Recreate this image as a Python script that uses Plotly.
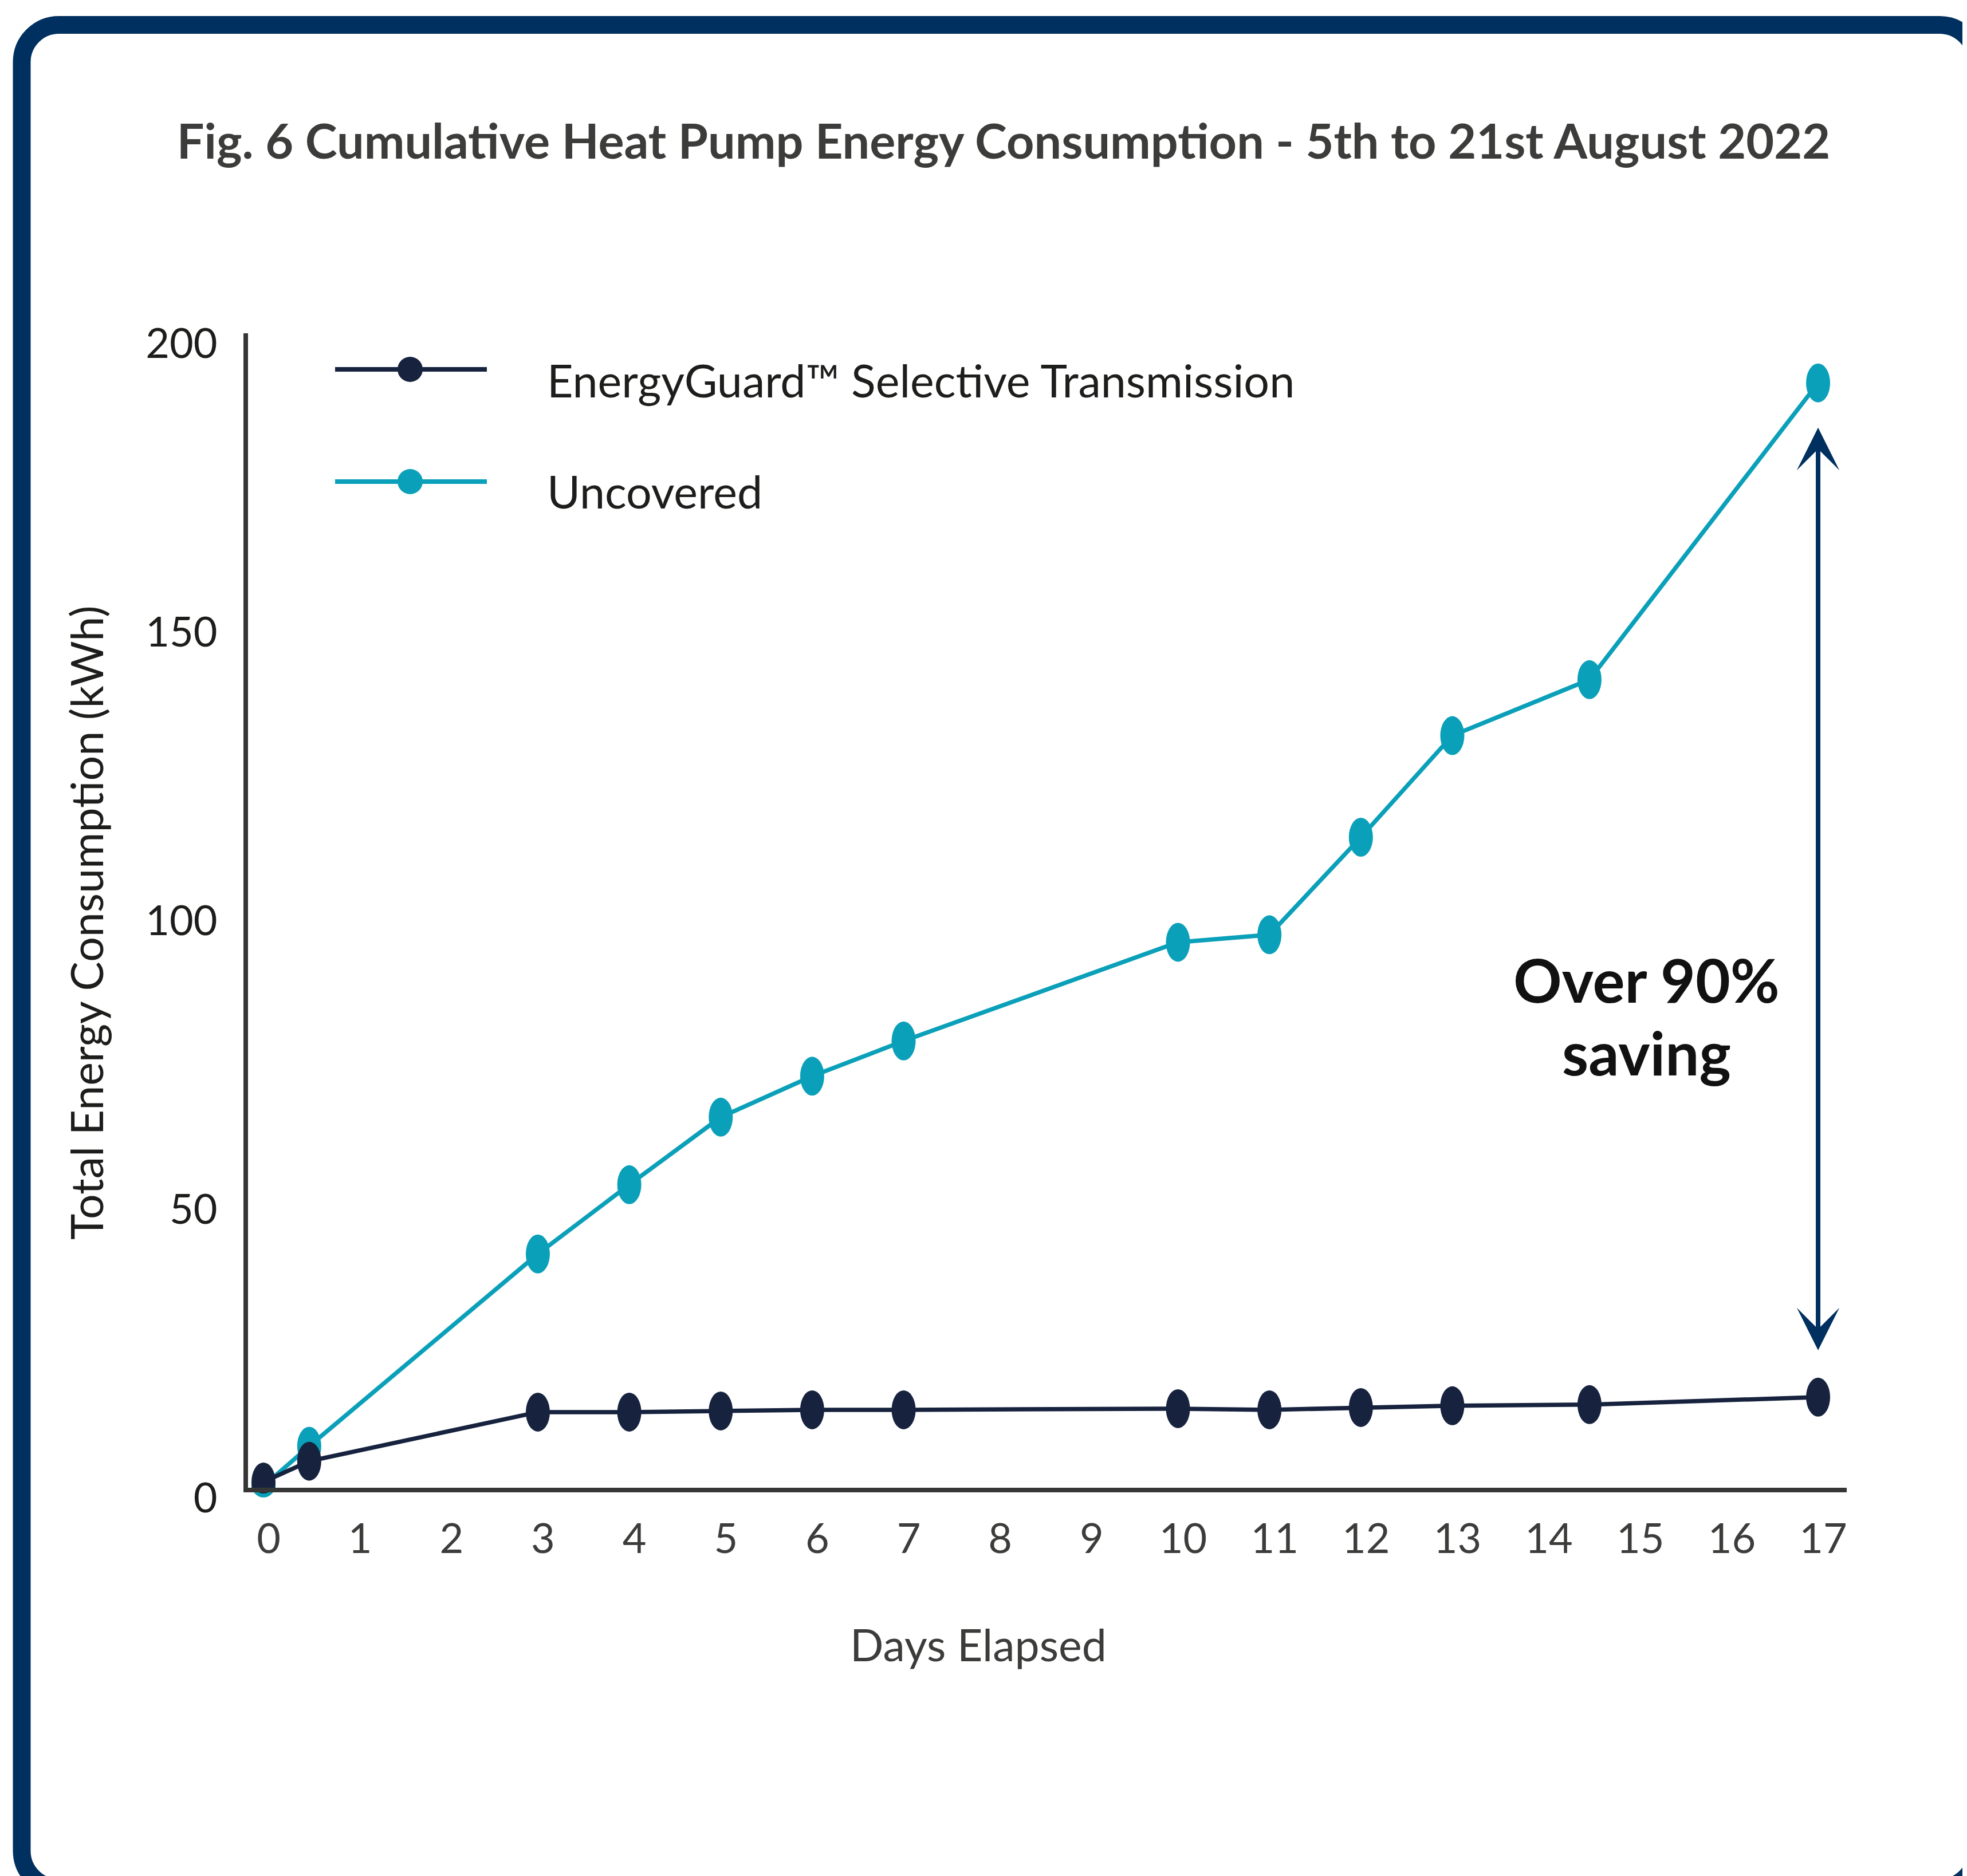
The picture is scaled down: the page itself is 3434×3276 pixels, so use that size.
import plotly.graph_objects as go

# ---------------- data ----------------
days = [0, 0.5, 3, 4, 5, 6, 7, 10, 11, 12, 13, 14.5, 17]
energyguard = [1.0, 4.6, 13.1, 13.1, 13.3, 13.5, 13.5, 13.7, 13.5, 13.9, 14.2, 14.4, 15.7]
uncovered = [0.3, 7.2, 40.5, 52.5, 64.2, 71.3, 77.4, 94.5, 95.8, 112.7, 130.3, 140.0, 191.4]
x_ticks = list(range(0, 18))
y_ticks = [0, 50, 100, 150, 200]
series_names = ["EnergyGuard™ Selective Transmission", "Uncovered"]

# ---------------- style / layout ----------------
W, H = 3434, 3276
OFF = 8                              # default page body margin
L, R, T, B = 433, 3224, 582, 2598    # plot area in page px
X0PX, XSCALE = 460, 159.65           # day 0 position and px per day
DARK = "#17233e"
TEAL = "#0ba0b9"
NAVY = "#00305f"
AXIS = "#363636"
FONT = "Lato"


def px2paper(px, py):
    return (px - L) / (R - L), (B - py) / (B - T)


x_range = [(L - X0PX) / XSCALE, (R - X0PX) / XSCALE]

fig = go.Figure()
for name, vals, col in [(series_names[1], uncovered, TEAL), (series_names[0], energyguard, DARK)]:
    fig.add_trace(go.Scatter(
        x=days, y=vals, name=name, mode="lines+markers",
        line=dict(color=col, width=7.5),
        marker=dict(color=col, size=40, symbol="circle"),
        cliponaxis=False, showlegend=False,
    ))

shapes = []
# elliptical markers anchored on data values
for vals, col in [(uncovered, TEAL), (energyguard, DARK)]:
    for d, v in zip(days, vals):
        shapes.append(dict(type="circle", xref="x", yref="y",
                           xsizemode="pixel", ysizemode="pixel",
                           xanchor=d, yanchor=v, x0=-21, x1=21, y0=-34, y1=34,
                           fillcolor=col, line=dict(width=0), layer="above"))

# rounded border
bl, bt, br, bb, rr = 38, 43.5, 3451, 3297, 65
k = 0.5523 * rr
pts = [
    ("M", [(bl + rr, bt)]),
    ("L", [(br - rr, bt)]),
    ("C", [(br - rr + k, bt), (br, bt + rr - k), (br, bt + rr)]),
    ("L", [(br, bb - rr)]),
    ("C", [(br, bb - rr + k), (br - rr + k, bb), (br - rr, bb)]),
    ("L", [(bl + rr, bb)]),
    ("C", [(bl + rr - k, bb), (bl, bb - rr + k), (bl, bb - rr)]),
    ("L", [(bl, bt + rr)]),
    ("C", [(bl, bt + rr - k), (bl + rr - k, bt), (bl + rr, bt)]),
]
path = ""
for cmd, plist in pts:
    path += cmd + " ".join("%.6f,%.6f" % px2paper(px, py) for px, py in plist) + " "
path += "Z"
shapes.append(dict(type="path", xref="paper", yref="paper", path=path,
                   line=dict(color=NAVY, width=31), layer="below"))

# custom legend
annotations = []
for name, col, ly, ty in [(series_names[0], DARK, 645, 663),
                          (series_names[1], TEAL, 841, 858)]:
    xa, ya = px2paper(585, ly)
    xb, _ = px2paper(850, ly)
    shapes.append(dict(type="line", xref="paper", yref="paper", x0=xa, x1=xb, y0=ya, y1=ya,
                       line=dict(color=col, width=8)))
    xm, _ = px2paper(716, ly)
    shapes.append(dict(type="circle", xref="paper", yref="paper",
                       xsizemode="pixel", ysizemode="pixel", xanchor=xm, yanchor=ya,
                       x0=-22, x1=22, y0=-22, y1=22, fillcolor=col, line=dict(width=0)))
    xt, yt = px2paper(953, ty)
    annotations.append(dict(x=xt, y=yt, xref="paper", yref="paper", text=name, showarrow=False,
                            xanchor="left", yanchor="middle",
                            font=dict(family=FONT, size=79, color="#1d1d1b")))

# axis titles
xt, yt = px2paper(150, 1612)
annotations.append(dict(x=xt, y=yt, xref="paper", yref="paper", text="Total Energy Consumption (kWh)",
                        textangle=-90, showarrow=False, xanchor="center", yanchor="middle",
                        font=dict(family=FONT, size=77, color="#1d1d1b")))
xt, yt = px2paper(1708, 2871)
annotations.append(dict(x=xt, y=yt, xref="paper", yref="paper", text="Days Elapsed",
                        showarrow=False, xanchor="center", yanchor="middle",
                        font=dict(family=FONT, size=77, color="#3c3c3b")))

# saving annotation (two lines, reference line spacing)
for txt, py in [("Over 90%", 1710), ("saving", 1837)]:
    xt, yt = px2paper(2874, py)
    annotations.append(dict(x=xt, y=yt, xref="paper", yref="paper", text=txt,
                            showarrow=False, xanchor="center", yanchor="middle",
                            font=dict(family=FONT, size=105, color="#111111", weight="bold")))

# double-headed arrow
arrow_x, arrow_top, arrow_bottom = 17, 183.8, 23.8
annotations.append(dict(x=arrow_x, y=arrow_bottom, ax=arrow_x, ay=arrow_top,
                        xref="x", yref="y", axref="x", ayref="y", text="",
                        showarrow=True, arrowside="end+start",
                        arrowhead=3, startarrowhead=3, arrowsize=1.55, startarrowsize=1.55,
                        arrowwidth=8, arrowcolor=NAVY, standoff=0, startstandoff=0))

fig.update_layout(
    width=W, height=H, autosize=False,
    margin=dict(l=L - OFF, r=W - (R - OFF), t=T - OFF, b=H - (B - OFF), pad=0),
    paper_bgcolor="white", plot_bgcolor="white",
    title=dict(text="Fig. 6 Cumulative Heat Pump Energy Consumption - 5th to 21st August 2022",
               x=(1752 - OFF) / W, xref="container", xanchor="center",
               y=1 - (247 - OFF) / H, yref="container", yanchor="middle",
               font=dict(family=FONT, size=84.5, color="#3c3c3b", weight="bold")),
    shapes=shapes, annotations=annotations, showlegend=False,
    xaxis=dict(range=x_range, tickvals=x_ticks, ticktext=[str(t) for t in x_ticks],
               showgrid=False, zeroline=False, showline=True, linecolor=AXIS, linewidth=8,
               ticks="", ticklabelstandoff=20, ticklabelshift=9,
               tickfont=dict(family=FONT, size=72, color="#3c3c3b")),
    yaxis=dict(range=[0, 200], tickvals=y_ticks, ticktext=[str(t) for t in y_ticks],
               showgrid=False, zeroline=False, showline=True, linecolor=AXIS, linewidth=8,
               ticks="", ticklabelstandoff=31, ticklabelshift=18,
               tickfont=dict(family=FONT, size=72, color="#1d1d1b")),
)

fig.write_html("out.html")
